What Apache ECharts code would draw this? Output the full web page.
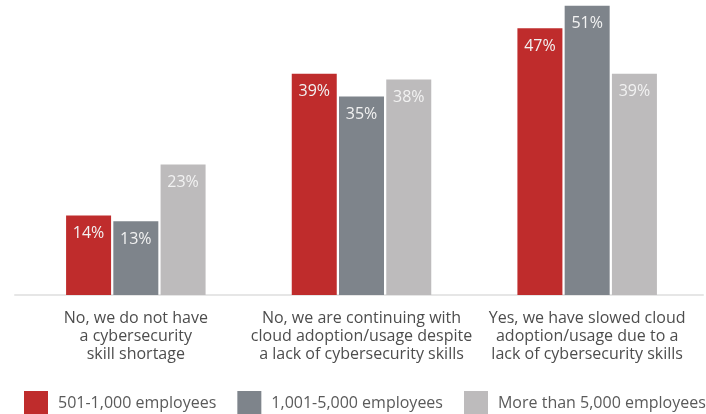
<!DOCTYPE html>
<html>
<head>
<meta charset="utf-8">
<style>
  html, body { margin: 0; padding: 0; background: #ffffff; }
  #chart { width: 706px; height: 414px; }
</style>
<script src="https://cdn.jsdelivr.net/npm/echarts@6/dist/echarts.min.js"></script>
</head>
<body>
<div id="chart"></div>
<script>
// Survey responses by company size
const categories = [
  'No, we do not have\na cybersecurity\nskill shortage',
  'No, we are continuing with\ncloud adoption/usage despite\na lack of cybersecurity skills',
  'Yes, we have slowed cloud\nadoption/usage due to a\nlack of cybersecurity skills'
];
const seriesNames = ['501-1,000 employees', '1,001-5,000 employees', 'More than 5,000 employees'];
const small = [14, 39, 47];
const medium = [13, 35, 51];
const large = [23, 38, 39];
const colors = ['#bf2c2c', '#7e848b', '#bdbbbc'];

const FONT = '"Open Sans", "Noto Sans", sans-serif';

const chart = echarts.init(document.getElementById('chart'), null, { renderer: 'canvas' });

function barSeries(name, data, color) {
  return {
    name: name,
    type: 'bar',
    xAxisIndex: 0,
    yAxisIndex: 0,
    data: data,
    barWidth: 45,
    barGap: '5%',
    itemStyle: { color: color },
    label: {
      show: true,
      position: 'insideTop',
      distance: 10,
      formatter: '{c}%',
      color: '#f2f2f2',
      fontFamily: FONT,
      fontSize: 16
    },
    emphasis: { disabled: true }
  };
}

chart.setOption({
  animation: false,
  color: colors,
  legend: {
    left: 19,
    top: 386,
    width: 1200,
    itemWidth: 24,
    itemHeight: 24,
    itemGap: 21,
    icon: 'rect',
    data: seriesNames,
    textStyle: {
      color: '#5a5a5a',
      fontFamily: FONT,
      fontSize: 16,
      padding: [0, 0, 0, 5]
    }
  },
  grid: [
    { left: 23, right: 6, top: 0, bottom: 119 },
    { left: 15, right: 3, top: 0, bottom: 119 }
  ],
  xAxis: [
    {
      type: 'category',
      gridIndex: 0,
      data: categories,
      axisLine: { show: false },
      axisTick: { show: false },
      axisLabel: {
        interval: 0,
        margin: 14,
        color: '#4d4d4d',
        fontFamily: FONT,
        fontSize: 16,
        lineHeight: 18,
        align: 'center'
      }
    },
    {
      type: 'category',
      gridIndex: 1,
      data: categories,
      axisLine: { show: true, lineStyle: { color: '#e6e6e6', width: 2 } },
      axisTick: { show: false },
      axisLabel: { show: false }
    }
  ],
  yAxis: [
    { type: 'value', gridIndex: 0, min: 0, max: 52, show: false },
    { type: 'value', gridIndex: 1, min: 0, max: 52, show: false }
  ],
  series: [
    barSeries(seriesNames[0], small, colors[0]),
    barSeries(seriesNames[1], medium, colors[1]),
    barSeries(seriesNames[2], large, colors[2])
  ]
});
</script>
</body>
</html>
